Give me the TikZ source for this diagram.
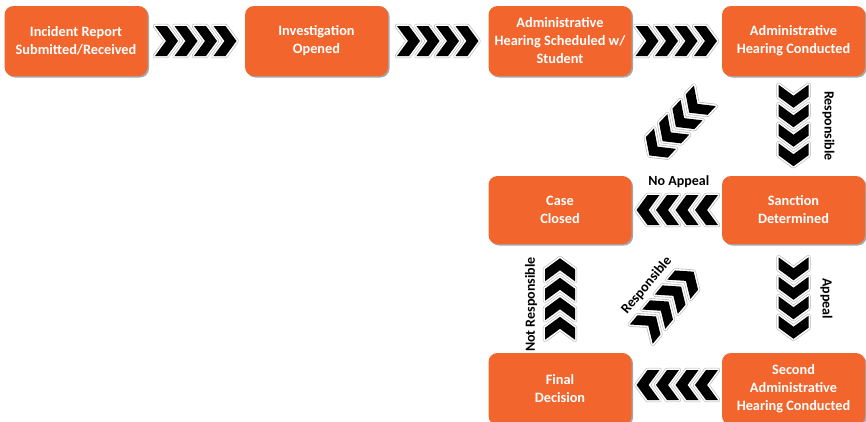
\documentclass[tikz,border=0pt]{standalone}
\usepackage{fontspec}
\setmainfont{Carlito}
\usetikzlibrary{calc}
\definecolor{boxorange}{RGB}{242,101,45}
\tikzset{
  x=1pt, y=-1pt,
  stage/.style={fill=boxorange, rounded corners=9pt, minimum width=143pt,
    minimum height=70pt, text=white, align=center, inner sep=0pt,
    font=\bfseries\fontsize{14.3}{18}\selectfont,
    preaction={fill=black!35, transform canvas={xshift=1.5pt, yshift=-1.5pt}}},
  flowlabel/.style={font=\bfseries\fontsize{14}{15}\selectfont, text=black, inner sep=0pt},
  chevrim/.style={draw=black!30, line width=4.4pt, line join=round},
  chevwhite/.style={draw=white, line width=3.2pt, line join=round},
}
% one chevron pointing along +x, centred on the origin
\newcommand\chevshape{(-12,-15) -- (0,-15) -- (11,0) -- (0,15) -- (-12,15) -- (-1,0) -- cycle}
% a row of four chevrons: #1 centre, #2 direction angle
\newcommand\chevrow[2]{%
  \begin{scope}[shift={#1}, rotate=#2]
    \foreach \k in {-1.5,-0.5,0.5,1.5}{
      \begin{scope}[shift={(\k*19.5,0)}]
        \path[chevrim] \chevshape;
        \path[chevwhite] \chevshape;
        \fill[black] \chevshape;
      \end{scope}
    }
  \end{scope}}
\begin{document}
\begin{tikzpicture}
  \clip (0,0) rectangle (866,421);
  \fill[white] (0,0) rectangle (866,421);

  % stages
  \node[stage] (report)   at (76,41)    {Incident Report\\Submitted/Received};
  \node[stage] (invest)   at (316.5,41) {Investigation\\Opened};
  \node[stage] (sched)    at (560,41)   {Administrative\\Hearing Scheduled w/\\Student};
  \node[stage] (hearing)  at (793.5,41) {Administrative\\Hearing Conducted};
  \node[stage, minimum height=68pt] (closed)   at (560,210)   {Case\\Closed};
  \node[stage, minimum height=68pt] (sanction) at (793.5,210) {Sanction\\Determined};
  \node[stage, minimum height=72pt] (final)    at (560,389)   {Final\\Decision};
  \node[stage, minimum height=72pt] (second)   at (793.5,389) {Second\\Administrative\\Hearing Conducted};

  % chevron connectors
  \chevrow{($(report.east)!0.5!(invest.west)$)}{0}
  \chevrow{($(invest.east)!0.5!(sched.west)$)}{0}
  \chevrow{($(sched.east)!0.5!(hearing.west)$)}{0}
  \chevrow{($(hearing.south)!0.5!(sanction.north)$)}{-90}
  \chevrow{($(sched.south east)!0.5!(sanction.north west)$)}{-133}
  \chevrow{($(sanction.west)!0.5!(closed.east)$)}{180}
  \chevrow{($(sanction.south)!0.5!(second.north)$)}{-90}
  \chevrow{($(second.west)!0.5!(final.east)+(0,-4)$)}{180}
  \chevrow{($(final.north)!0.5!(closed.south)$)}{90}
  \chevrow{($(final.north east)!0.5!(sanction.south west)+(-9,4)$)}{50}

  % connector labels
  \node[flowlabel, rotate=-90] (lresp) at ($(hearing.south)!0.5!(sanction.north)+(35,0)$) {Responsible};
  \node[flowlabel] (lnoapp) at ($(sanction.west)!0.5!(closed.east)+(2,-28)$) {No Appeal};
  \node[flowlabel, rotate=-90] (lapp) at ($(sanction.south)!0.5!(second.north)+(33,0)$) {Appeal};
  \node[flowlabel, rotate=90] (lnot) at ($(final.north)!0.5!(closed.south)+(-29,6)$) {Not Responsible};
  \node[flowlabel, rotate=50] (lresp2) at ($(final.north east)!0.5!(sanction.south west)+(-30,-13)$) {Responsible};
\end{tikzpicture}
\end{document}
